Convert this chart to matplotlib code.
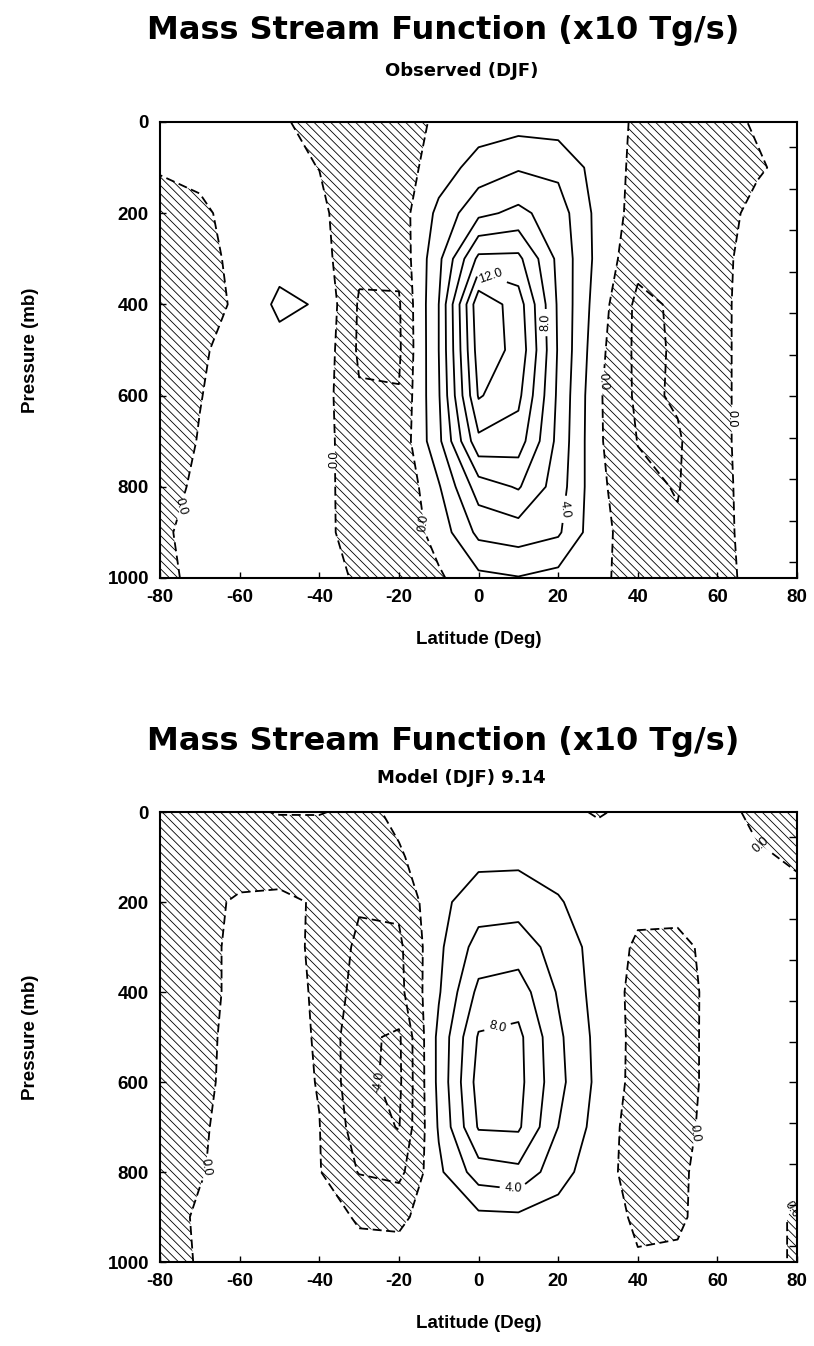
import numpy as np
import matplotlib.pyplot as plt
from matplotlib.ticker import FixedLocator

plt.rcParams["font.family"] = ["Liberation Sans", "DejaVu Sans"]
plt.rcParams["axes.unicode_minus"] = False
plt.rcParams["hatch.linewidth"] = 0.6
plt.rcParams["hatch.color"] = "black"
plt.rcParams["lines.dashed_pattern"] = [5.0, 2.5]

# latitude (deg) and pressure (mb) of the grid
lats = [-80, -70, -60, -50, -40, -30, -20, -10, 0, 10, 20, 30, 40, 50, 60, 70, 80]
pressures = [0, 100, 200, 300, 400, 500, 600, 700, 800, 900, 1000]

# mass stream function (x10 Tg/s), one row per pressure level
obs_psi = [
    [0.5, 0.5, 0.5, 0.2, -0.5, -1.0, -0.8, 0.3, 1.0, 1.2, 1.0, 0.5, -0.15, -0.8, -0.6, 0.2, 0.4],
    [0.1, 0.2, 0.4, 0.3, -0.02, -1.2, -1.0, 1.0, 2.8, 3.8, 3.5, 1.2, -0.5, -1.2, -0.8, -0.2, 0.6],
    [-0.5, -0.15, 0.3, 0.6, 0.3, -0.9, -1.0, 2.5, 5.5, 6.5, 5.0, 1.4, -0.75, -1.4, -0.7, 0.5, 0.8],
    [-0.6, -0.25, 0.2, 1.2, 0.8, -1.6, -1.5, 3.5, 10.5, 10.5, 5.5, 1.4, -1.4, -1.6, -0.6, 0.9, 0.8],
    [-0.6, -0.35, 0.15, 2.5, 1.8, -2.2, -2.2, 4.0, 15.5, 13.0, 5.7, 1.0, -2.5, -1.7, -0.5, 0.9, 0.8],
    [-0.5, -0.1, 0.3, 1.2, 1.5, -2.3, -2.3, 4.0, 15.0, 13.5, 5.8, 0.6, -2.5, -1.8, -0.5, 0.9, 0.8],
    [-0.5, -0.03, 0.4, 1.0, 1.0, -1.8, -1.9, 3.8, 14.2, 12.5, 5.6, 0.3, -2.4, -1.8, -0.5, 0.9, 0.8],
    [-0.5, 0.05, 0.4, 0.9, 0.9, -1.4, -1.5, 3.5, 11.5, 11.0, 5.4, 0.3, -2.05, -2.2, -0.5, 0.9, 0.8],
    [-0.4, 0.2, 0.5, 0.8, 0.8, -1.2, -1.8, 1.8, 7.0, 8.2, 5.0, 0.5, -1.6, -2.1, -0.6, 0.9, 0.8],
    [-0.2, 0.4, 0.5, 0.7, 0.7, -1.0, -1.5, 0.8, 4.5, 5.0, 4.3, 0.6, -1.0, -1.8, -0.6, 0.8, 0.7],
    [-0.3, 0.3, 0.4, 0.5, 0.6, -0.2, -1.0, -0.3, 1.5, 1.9, 1.3, 0.4, -0.8, -1.2, -0.5, 0.5, 0.5],
]

model_psi = [
    [-0.8, -0.6, -0.3, 0.1, 0.1, -0.4, 0.3, 0.5, 0.6, 0.6, 0.3, -0.1, 0.3, 0.4, 0.3, -0.2, -0.5],
    [-1.2, -1.4, -1.5, -1.5, -1.4, -1.2, -0.15, 0.8, 1.5, 1.5, 1.0, 0.6, 0.5, 0.5, 0.4, 0.1, -0.1],
    [-1.2, -0.8, 0.4, 0.6, -0.3, -1.8, -1.6, 1.5, 3.0, 3.2, 2.2, 0.8, 0.5, 0.4, 0.4, 0.3, 0.2],
    [-1.2, -0.6, 0.5, 0.7, -0.4, -2.4, -2.4, 1.6, 4.8, 5.0, 3.2, 1.2, -0.3, -0.3, 0.4, 0.3, 0.2],
    [-1.2, -0.6, 0.5, 0.8, -0.3, -2.8, -2.6, 1.8, 6.5, 7.0, 3.8, 1.2, -0.6, -0.6, 0.5, 0.4, 0.2],
    [-1.2, -0.4, 0.5, 0.8, -0.2, -3.6, -4.3, 2.5, 8.2, 8.5, 4.4, 1.4, -0.6, -0.7, 0.6, 0.4, 0.2],
    [-1.2, -0.4, 0.6, 0.8, -0.1, -3.6, -4.4, 2.5, 8.8, 8.6, 4.6, 1.5, -0.7, -0.7, 0.6, 0.4, 0.2],
    [-1.2, -0.2, 0.6, 0.8, 0.05, -3.0, -4.1, 2.2, 8.2, 8.3, 4.0, 1.2, -1.0, -0.5, 0.6, 0.4, 0.2],
    [-1.0, -0.1, 0.6, 0.8, 0.1, -2.1, -2.6, 1.6, 5.0, 5.5, 2.8, 0.8, -0.8, -0.2, 0.5, 0.5, 0.2],
    [-0.6, 0.2, 0.6, 0.7, 0.4, -0.1, -0.15, 0.4, 1.5, 1.6, 1.2, 0.6, -0.2, -0.1, 0.3, 0.3, -0.1],
    [-0.5, 0.1, 0.3, 0.3, 0.3, 0.3, 0.3, 0.3, 0.5, 0.5, 0.4, 0.3, 0.1, 0.1, 0.2, 0.3, -0.1],
]

obs_pos_levels = [2, 4, 6, 8, 10, 12, 14]
obs_neg_levels = [-2, 0]
model_pos_levels = [2, 4, 6, 8]
model_neg_levels = [-4, -2, 0]

title = "Mass Stream Function (x10 Tg/s)"
obs_subtitle = "Observed (DJF)"
model_subtitle = "Model (DJF) 9.14"


def draw_panel(ax, psi, pos_levels, neg_levels, pos_labels, neg_labels):
    psi = np.array(psi)
    # hatch the negative (clockwise) cells
    ax.contourf(lats, pressures, psi, levels=[psi.min() - 1, 0],
                colors="none", hatches=["\\\\\\\\"])
    cneg = ax.contour(lats, pressures, psi, levels=neg_levels, colors="k",
                      linewidths=1.3, linestyles="dashed")
    cpos = ax.contour(lats, pressures, psi, levels=pos_levels, colors="k",
                      linewidths=1.3, linestyles="solid")
    ax.clabel(cneg, fmt="%.1f", fontsize=9, manual=neg_labels, inline=True)
    ax.clabel(cpos, fmt="%.1f", fontsize=9, manual=pos_labels, inline=True)

    ax.set_xlim(-80, 80)
    ax.set_ylim(1000, 0)
    ax.set_xticks(range(-80, 81, 20))
    ax.set_yticks(range(0, 1001, 200))
    ax.yaxis.set_minor_locator(FixedLocator(np.arange(55, 1000, 91)))
    ax.tick_params(which="major", direction="in", length=4, width=1,
                   labelsize=13.5, pad=8)
    ax.tick_params(which="minor", direction="in", left=False, right=True,
                   length=6, width=1)
    for lab in ax.get_xticklabels() + ax.get_yticklabels():
        lab.set_fontweight("bold")
    for sp in ax.spines.values():
        sp.set_linewidth(1.5)
    ax.set_xlabel("Latitude (Deg)", fontsize=13.5, fontweight="bold")
    ax.set_ylabel("Pressure (mb)", fontsize=13.5, fontweight="bold")
    h = ax.get_position().height * 1346
    ax.xaxis.set_label_coords(0.5, -53 / h)
    ax.yaxis.set_label_coords(-0.19, 0.5)


fig = plt.figure(figsize=(8.14, 13.46), dpi=100)

ax1 = fig.add_axes([0.1966, 0.5706, 0.7826, 0.3388])
draw_panel(ax1, obs_psi, obs_pos_levels, obs_neg_levels,
           pos_labels=[(3, 340), (17, 440), (22, 850)],
           neg_labels=[(-76, 840), (-35, 740), (-12, 878), (32, 570), (64, 650)])

ax2 = fig.add_axes([0.1966, 0.0624, 0.7826, 0.3343])
draw_panel(ax2, model_psi, model_pos_levels, model_neg_levels,
           pos_labels=[(4, 450), (9, 815)],
           neg_labels=[(-68, 790), (-26, 600), (52, 710), (73, 50), (78, 880)])

tfont = dict(family="DejaVu Sans", fontweight="bold", ha="center", va="center")
fig.text(0.545, 0.977, title, fontsize=23, **tfont)
fig.text(0.567, 0.947, obs_subtitle, fontsize=13, **tfont)
fig.text(0.545, 0.449, title, fontsize=23, **tfont)
fig.text(0.567, 0.422, model_subtitle, fontsize=13, **tfont)

fig.savefig("out.png", dpi=100)
